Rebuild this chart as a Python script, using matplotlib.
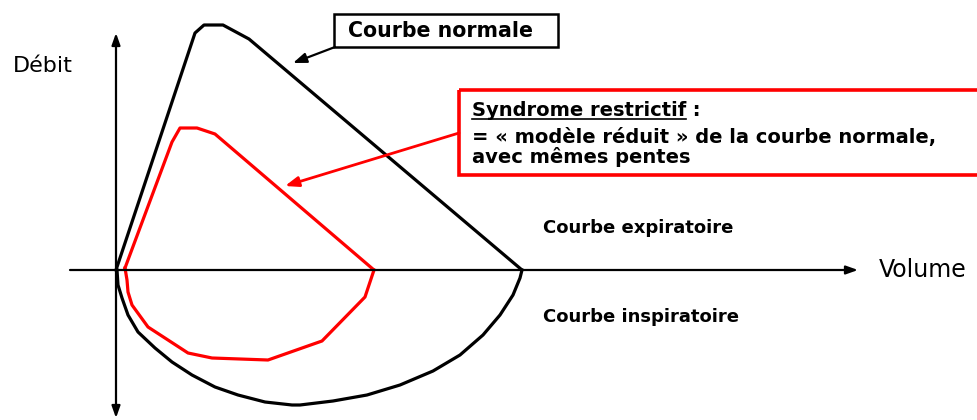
import matplotlib
matplotlib.use("Agg")
import matplotlib.pyplot as plt
from matplotlib.patches import Rectangle

# curve points (pixel space, y downwards)
normal_exp_x = [116, 195, 204, 223, 249, 522]
normal_exp_y = [270, 33, 25, 25, 39, 270]
normal_insp_x = [522, 520, 513, 500, 483, 460, 433, 400, 367, 333, 300, 292, 265, 238, 215,
                 192, 172, 155, 138, 128, 122, 118, 117]
normal_insp_y = [270, 278, 295, 315, 335, 355, 371, 385, 395, 401, 405, 405, 402, 395, 387,
                 375, 362, 348, 332, 315, 298, 285, 270]

red_exp_x = [125, 172, 180, 197, 215, 374]
red_exp_y = [268, 142, 128, 128, 134, 270]
red_insp_x = [374, 365, 322, 268, 212, 188, 148, 132, 128, 127, 125]
red_insp_y = [270, 297, 341, 360, 358, 353, 327, 305, 292, 280, 268]

box_title = "Syndrome restrictif"
box_lines = ["= « modèle réduit » de la courbe normale,", "avec mêmes pentes"]

plt.rcParams["font.family"] = ["DejaVu Sans"]
RED = "#ff0000"

fig = plt.figure(figsize=(9.77, 4.2), dpi=100)
ax = fig.add_axes([0, 0, 1, 1])
ax.set_xlim(0, 977)
ax.set_ylim(420, 0)
ax.axis("off")

# axes with arrows
ax.annotate("", xy=(116, 33), xytext=(116, 418),
            arrowprops=dict(arrowstyle="<|-|>,head_length=0.7,head_width=0.25", color="black",
                            lw=1.6, shrinkA=0, shrinkB=0, mutation_scale=10))
ax.annotate("", xy=(858, 270), xytext=(70, 270),
            arrowprops=dict(arrowstyle="-|>,head_length=0.7,head_width=0.25", color="black",
                            lw=1.6, shrinkA=0, shrinkB=0, mutation_scale=10))

# normal curve
ax.plot(normal_exp_x, normal_exp_y, color="black", lw=2.3, solid_joinstyle="round")
ax.plot(normal_insp_x, normal_insp_y, color="black", lw=2.3, solid_joinstyle="round")

# restrictive curve
ax.plot(red_exp_x, red_exp_y, color=RED, lw=2.3, solid_joinstyle="round")
ax.plot(red_insp_x, red_insp_y, color=RED, lw=2.3, solid_joinstyle="round")

# axis labels
ax.text(13, 72, "Débit", fontsize=16, va="baseline", ha="left")
ax.text(879, 277, "Volume", fontsize=17, va="baseline", ha="left")

# "Courbe normale" callout
ax.add_patch(Rectangle((334, 14), 224, 33, fill=False, edgecolor="black", lw=1.8))
ax.text(348, 37, "Courbe normale", fontsize=14.8, fontweight="bold", va="baseline", ha="left")
ax.annotate("", xy=(293, 63), xytext=(335, 47),
            arrowprops=dict(arrowstyle="-|>,head_length=0.8,head_width=0.3", color="black",
                            lw=1.6, shrinkA=0, shrinkB=0, mutation_scale=10))

# restrictive syndrome callout
ax.add_patch(Rectangle((459, 90), 540, 85, fill=False, edgecolor=RED, lw=2.6))
t = ax.text(472, 116, box_title, fontsize=14, fontweight="bold", va="baseline", ha="left")
ax.annotate(" :", xy=(1, 0), xycoords=t, fontsize=14, fontweight="bold", va="bottom", ha="left")
ax.text(472, 143, box_lines[0], fontsize=14, fontweight="bold", va="baseline", ha="left")
ax.text(472, 163, box_lines[1], fontsize=14, fontweight="bold", va="baseline", ha="left")
ax.annotate("", xy=(285, 186), xytext=(459, 133),
            arrowprops=dict(arrowstyle="-|>,head_length=0.8,head_width=0.3", color=RED,
                            lw=2, shrinkA=0, shrinkB=0, mutation_scale=10))

# underline of the title
fig.canvas.draw()
bb = t.get_window_extent()
inv = ax.transData.inverted()
(x0, _), (x1, _) = inv.transform([(bb.x0, bb.y0), (bb.x1, bb.y0)])
ax.plot([x0, x1], [119, 119], color="black", lw=1.2)

ax.text(543, 233, "Courbe expiratoire", fontsize=13, fontweight="bold", va="baseline", ha="left")
ax.text(543, 322, "Courbe inspiratoire", fontsize=13, fontweight="bold", va="baseline", ha="left")

fig.savefig("out.png", dpi=100)
